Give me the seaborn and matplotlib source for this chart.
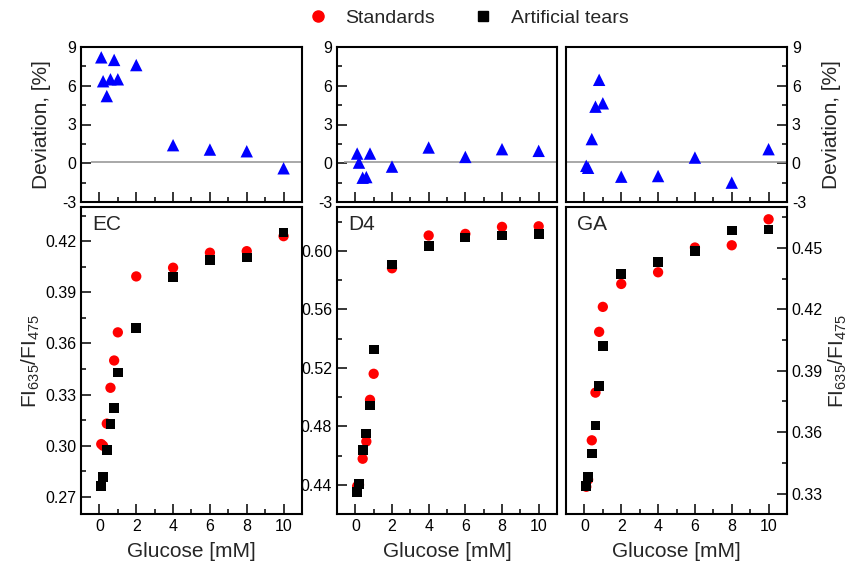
import seaborn as sns
from matplotlib import pyplot as plt
from matplotlib.ticker import MultipleLocator, FormatStrFormatter
from matplotlib.lines import Line2D

sns.set_style("ticks")
plt.rcParams['font.family'] = ['Liberation Sans', 'DejaVu Sans']
plt.rcParams['mathtext.fontset'] = 'custom'
plt.rcParams['mathtext.rm'] = 'Liberation Sans'
plt.rcParams['axes.unicode_minus'] = False

# glucose concentrations (mM)
glucose = [0.1, 0.2, 0.4, 0.6, 0.8, 1, 2, 4, 6, 8, 10]
glucose_d4_dev = [0.1, 0.2, 0.4, 0.6, 0.8, 2, 4, 6, 8, 10]

# FI635/FI475 ratios
ec_std = [0.301, 0.300, 0.313, 0.334, 0.350, 0.3665, 0.3993, 0.4044, 0.4132, 0.4141, 0.4229]
ec_tear = [0.2764, 0.2815, 0.2975, 0.313, 0.3223, 0.343, 0.3692, 0.3991, 0.409, 0.4104, 0.4251]
d4_std = [0.439, 0.440, 0.4578, 0.4696, 0.4981, 0.5159, 0.5881, 0.6105, 0.6116, 0.6164, 0.6168]
d4_tear = [0.435, 0.4405, 0.4635, 0.4751, 0.4942, 0.5325, 0.5907, 0.6034, 0.6091, 0.6105, 0.6118]
ga_std = [0.3333, 0.3368, 0.356, 0.3793, 0.409, 0.4212, 0.4324, 0.4381, 0.4502, 0.4513, 0.464]
ga_tear = [0.3337, 0.3382, 0.3496, 0.3632, 0.3826, 0.402, 0.4373, 0.4433, 0.4484, 0.4585, 0.459]

# deviation (%)
ec_dev = [8.2, 6.35, 5.2, 6.5, 8.0, 6.5, 7.6, 1.4, 1.06, 0.93, -0.39]
d4_dev = [0.75, 0.05, -1.12, -1.07, 0.75, -0.26, 1.22, 0.49, 1.09, 0.96]
ga_dev = [-0.2, -0.35, 1.87, 4.38, 6.46, 4.64, -1.04, -0.99, 0.44, -1.5, 1.09]

names = ['EC', 'D4', 'GA']
ylims = [(0.26, 0.44), (0.42, 0.63), (0.32, 0.47)]
ysteps = [0.03, 0.04, 0.03]
zero_line_start = [-0.45, -0.63, -0.95]

fig = plt.figure(figsize=(8.5, 5.71), dpi=100)
lefts = [81 / 850, 337 / 850, 566 / 850]
widths = [221 / 850, 220 / 850, 221 / 850]

std_sets = [ec_std, d4_std, ga_std]
tear_sets = [ec_tear, d4_tear, ga_tear]
dev_sets = [(glucose, ec_dev), (glucose_d4_dev, d4_dev), (glucose, ga_dev)]


def style_axis(ax, right=False):
    for sp in ax.spines.values():
        sp.set_visible(True)
        sp.set_linewidth(1.5)
        sp.set_color('black')
    ax.tick_params(which='both', direction='in', width=1.1, colors='black',
                   labelsize=11.5, top=False, right=right, left=not right,
                   labelright=right, labelleft=not right)
    ax.tick_params(which='major', length=7)
    ax.tick_params(which='minor', length=3.5)
    ax.set_xlim(-1, 11)
    ax.xaxis.set_major_locator(MultipleLocator(2))
    ax.xaxis.set_minor_locator(MultipleLocator(1))
    ax.set_xlabel('')
    ax.set_ylabel('')


for i in range(3):
    right = i == 2
    # deviation panel
    ax_t = fig.add_axes([lefts[i], 369 / 571, widths[i], 155 / 571])
    xd, yd = dev_sets[i]
    ax_t.hlines(0.1, zero_line_start[i], 11, color='#999999', lw=1.2, zorder=1)
    sns.scatterplot(x=xd, y=yd, ax=ax_t, color='#0000FF', marker='^', s=80,
                    edgecolor='none', zorder=3)
    style_axis(ax_t, right)
    ax_t.set_ylim(-3, 9)
    ax_t.yaxis.set_major_locator(MultipleLocator(3))
    ax_t.yaxis.set_minor_locator(MultipleLocator(1.5))
    ax_t.tick_params(labelbottom=False)

    # calibration panel
    ax_b = fig.add_axes([lefts[i], 57 / 571, widths[i], 307 / 571])
    sns.scatterplot(x=glucose, y=std_sets[i], ax=ax_b, color='#FF0000', marker='o',
                    s=55, edgecolor='none', zorder=3)
    sns.scatterplot(x=glucose, y=tear_sets[i], ax=ax_b, color='black', marker='s',
                    s=50, edgecolor='none', zorder=4)
    style_axis(ax_b, right)
    ax_b.set_ylim(*ylims[i])
    ax_b.yaxis.set_major_locator(MultipleLocator(ysteps[i]))
    ax_b.yaxis.set_minor_locator(MultipleLocator(ysteps[i] / 2))
    ax_b.yaxis.set_major_formatter(FormatStrFormatter('%.2f'))
    ax_b.set_xlabel('Glucose [mM]', fontsize=15, labelpad=6)
    ax_b.text(0.05, 0.975, names[i], transform=ax_b.transAxes, fontsize=15,
              ha='left', va='top')

ratio_label = 'FI$_\\mathregular{635}$/FI$_\\mathregular{475}$'
fig.text(0.049, 1 - 124.5 / 571, 'Deviation, [%]', rotation=90, ha='center',
         va='center', fontsize=15)
fig.text(0.978, 1 - 124.5 / 571, 'Deviation, [%]', rotation=90, ha='center',
         va='center', fontsize=15)
fig.text(0.036, 1 - 360.5 / 571, ratio_label, rotation=90, ha='center',
         va='center', fontsize=15)
fig.text(0.986, 1 - 360.5 / 571, ratio_label, rotation=90, ha='center',
         va='center', fontsize=15)

handles = [
    Line2D([], [], ls='none', marker='o', color='#FF0000', markersize=8, label='Standards'),
    Line2D([], [], ls='none', marker='s', color='black', markersize=7, label='Artificial tears'),
]
fig.legend(handles=handles, loc='center', bbox_to_anchor=(0.545, 0.968), ncol=2,
           frameon=False, fontsize=14, handletextpad=0.4, columnspacing=1.5)

fig.savefig('out.png', dpi=100)
